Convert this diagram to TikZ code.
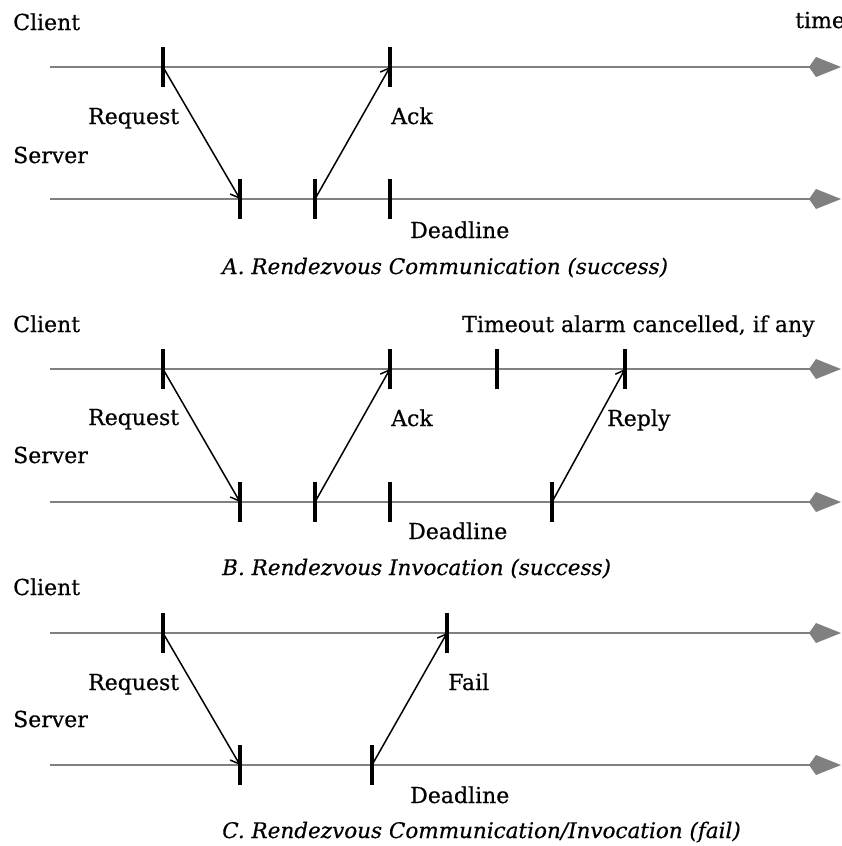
\documentclass[tikz,border=0pt]{standalone}
\usepackage{fontspec}
\setmainfont{DejaVu Serif}[FakeBold=0.5]
\usepackage{tikz}
\usetikzlibrary{arrows.meta}

\tikzset{
  timeline/.style={draw=black!50, line width=2.2pt, -{Kite[length=32pt, width=20pt, inset=7pt]}},
  evtick/.style={line width=3.2pt},
  msg/.style={line width=1.5pt, -{Straight Barb[length=8pt, width=12pt, line width=1.5pt]}},
  lbl/.style={anchor=base west, inner sep=0pt, font=\fontsize{22}{26}\selectfont},
  capt/.style={anchor=base west, inner sep=0pt, font=\fontsize{21.5}{25}\selectfont\itshape}
}

\begin{document}
\begin{tikzpicture}[x=1pt, y=-1pt]
    \useasboundingbox (0,0) rectangle (841,846);

    % A. communication, success
    \node[lbl] (a-client) at (13,30) {Client};
    \node[lbl] (a-time) at (795,28) {time};
    \node[lbl] (a-server) at (13,163) {Server};
    \coordinate (a-cs) at (50,67);   \coordinate (a-ce) at (841,67);
    \coordinate (a-ss) at (50,199);  \coordinate (a-se) at (841,199);
    \draw[timeline] (a-cs) -- (a-ce);
    \draw[timeline] (a-ss) -- (a-se);
    \coordinate (a-c1) at (163,67);  \coordinate (a-c2) at (390,67);
    \coordinate (a-s1) at (240,199); \coordinate (a-s2) at (315,199); \coordinate (a-s3) at (390,199);
    \foreach \p in {a-c1,a-c2,a-s1,a-s2,a-s3}
        \draw[evtick] ([yshift=20pt]\p) -- ([yshift=-20pt]\p);
    \draw[msg] (a-c1) -- (a-s1);
    \draw[msg] (a-s2) -- (a-c2);
    \node[lbl] (a-req) at (88,124) {Request};
    \node[lbl] (a-ack) at (391,124) {Ack};
    \node[lbl] (a-dl) at (410,238) {Deadline};
    \node[capt] (a-cap) at (222,274) {A. Rendezvous Communication (success)};

    % B. invocation, success
    \node[lbl] (b-client) at (13,332) {Client};
    \node[lbl] (b-timeout) at (462,332) {Timeout alarm cancelled, if any};
    \node[lbl] (b-server) at (13,463) {Server};
    \coordinate (b-cs) at (50,369);  \coordinate (b-ce) at (841,369);
    \coordinate (b-ss) at (50,502);  \coordinate (b-se) at (841,502);
    \draw[timeline] (b-cs) -- (b-ce);
    \draw[timeline] (b-ss) -- (b-se);
    \coordinate (b-c1) at (163,369); \coordinate (b-c2) at (390,369);
    \coordinate (b-c3) at (497,369); \coordinate (b-c4) at (625,369);
    \coordinate (b-s1) at (240,502); \coordinate (b-s2) at (315,502);
    \coordinate (b-s3) at (390,502); \coordinate (b-s4) at (552,502);
    \foreach \p in {b-c1,b-c2,b-c3,b-c4,b-s1,b-s2,b-s3,b-s4}
        \draw[evtick] ([yshift=20pt]\p) -- ([yshift=-20pt]\p);
    \draw[msg] (b-c1) -- (b-s1);
    \draw[msg] (b-s2) -- (b-c2);
    \draw[msg] (b-s4) -- (b-c4);
    \node[lbl] (b-req) at (88,425) {Request};
    \node[lbl] (b-ack) at (391,426) {Ack};
    \node[lbl] (b-reply) at (607,426) {Reply};
    \node[lbl] (b-dl) at (408,539) {Deadline};
    \node[capt] (b-cap) at (222,575) {B. Rendezvous Invocation (success)};

    % C. communication/invocation, fail
    \node[lbl] (c-client) at (13,595) {Client};
    \node[lbl] (c-server) at (13,727) {Server};
    \coordinate (c-cs) at (50,633);  \coordinate (c-ce) at (841,633);
    \coordinate (c-ss) at (50,765);  \coordinate (c-se) at (841,765);
    \draw[timeline] (c-cs) -- (c-ce);
    \draw[timeline] (c-ss) -- (c-se);
    \coordinate (c-c1) at (163,633); \coordinate (c-c2) at (447,633);
    \coordinate (c-s1) at (240,765); \coordinate (c-s2) at (372,765);
    \foreach \p in {c-c1,c-c2,c-s1,c-s2}
        \draw[evtick] ([yshift=20pt]\p) -- ([yshift=-20pt]\p);
    \draw[msg] (c-c1) -- (c-s1);
    \draw[msg] (c-s2) -- (c-c2);
    \node[lbl] (c-req) at (88,690) {Request};
    \node[lbl] (c-fail) at (448,690) {Fail};
    \node[lbl] (c-dl) at (410,803) {Deadline};
    \node[capt] (c-cap) at (222,838) {C. Rendezvous Communication/Invocation (fail)};

\end{tikzpicture}
\end{document}
